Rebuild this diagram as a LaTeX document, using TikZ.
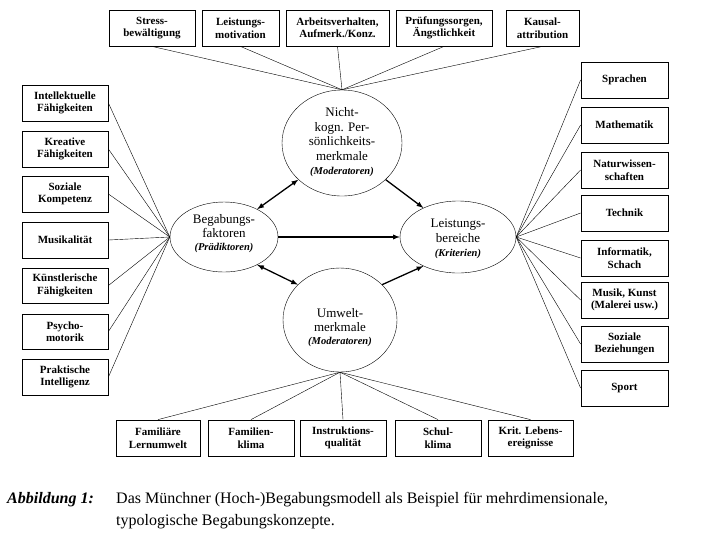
\documentclass[tikz,border=0pt]{standalone}
\usepackage{fontspec}
\setmainfont{Liberation Serif}
\usetikzlibrary{shapes.geometric}
\begin{document}
\begin{tikzpicture}[x=1pt,y=-1pt,
 bx/.style={draw,thick,align=center,inner sep=0pt,font=\fontsize{11}{12.5}\selectfont\bfseries},
 el/.style={draw,ellipse,inner sep=0pt},
 et/.style={align=center,font=\fontsize{13}{14.5}\selectfont},
 ei/.style={font=\fontsize{10.5}{12}\selectfont\bfseries\itshape},
 ar/.style={line width=1.3pt,-latex},
 dar/.style={line width=1.3pt,latex-latex},
 ln/.style={thin}]
\useasboundingbox (0,0) rectangle (708,558);
\def\B#1#2#3#4#5#6{\node[bx,minimum width=#4-#2,minimum height=#5-#3] (#1) at ({(#2+#4)/2},{(#3+#5)/2}) {#6};}
% ellipses
\node[el,minimum width=120,minimum height=106] (top) at (342,143) {};
\node[et] (topt) at (342,134) {Nicht-\\kogn. Per-\\sönlichkeits-\\merkmale};
\node[ei] (topi) at (342,172) {(Moderatoren)};
\node[el,minimum width=108,minimum height=70] (lef) at (224,237) {};
\node[et] (left) at (224,226) {Begabungs-\\faktoren};
\node[ei] (lefi) at (224,248) {(Prädiktoren)};
\node[el,minimum width=116,minimum height=72] (rig) at (458,237) {};
\node[et] (rigt) at (458,231) {Leistungs-\\bereiche};
\node[ei] (rigi) at (458,254) {(Kriterien)};
\node[el,minimum width=114,minimum height=104] (bot) at (340,320) {};
\node[et] (bott) at (340,320) {Umwelt-\\merkmale};
\node[ei] (boti) at (340,342) {(Moderatoren)};
% top boxes
\B{t1}{109}{10}{195}{46}{Stress-\\bewältigung}
\B{t2}{202}{10}{279}{46}{Leistungs-\\motivation}
\B{t3}{286}{10}{389}{46}{Arbeitsverhalten,\\Aufmerk./Konz.}
\B{t4}{396}{10}{492}{46}{Prüfungssorgen,\\Ängstlichkeit}
\B{t5}{506}{10}{579}{46}{Kausal-\\attribution}
\foreach \n in {t1,t2,t3,t4,t5} \draw[ln] (\n.south) -- (top.north);
% left boxes
\B{l1}{22}{85}{108}{121}{Intellektuelle\\Fähigkeiten}
\B{l2}{22}{131}{108}{167}{Kreative\\Fähigkeiten}
\B{l3}{22}{176}{108}{212}{Soziale\\Kompetenz}
\B{l4}{22}{222}{108}{258}{Musikalität}
\B{l5}{22}{268}{108}{303}{Künstlerische\\Fähigkeiten}
\B{l6}{22}{314}{108}{349}{Psycho-\\motorik}
\B{l7}{22}{359}{108}{395}{Praktische\\Intelligenz}
\foreach \n in {l1,l2,l3,l4,l5,l6,l7} \draw[ln] (\n.east) -- (lef.west);
% right boxes
\B{r1}{581}{62}{668}{98}{Sprachen}
\B{r2}{581}{107}{668}{143}{Mathematik}
\B{r3}{581}{152}{668}{188}{Naturwissen-\\schaften}
\B{r4}{581}{195}{668}{231}{Technik}
\B{r5}{581}{240}{668}{276}{Informatik,\\Schach}
\B{r6}{581}{282}{668}{318}{Musik, Kunst\\(Malerei usw.)}
\B{r7}{581}{326}{668}{362}{Soziale\\Beziehungen}
\B{r8}{581}{370}{668}{406}{Sport}
\foreach \n in {r1,r2,r3,r4,r5,r6,r7,r8} \draw[ln] (\n.west) -- (rig.east);
% bottom boxes
\B{b1}{116}{420}{200}{456}{Familiäre\\Lernumwelt}
\B{b2}{208}{420}{294}{456}{Familien-\\klima}
\B{b3}{300}{420}{386}{456}{Instruktions-\\qualität}
\B{b4}{395}{420}{481}{456}{Schul-\\klima}
\B{b5}{488}{420}{573}{456}{Krit. Lebens-\\ereignisse}
\foreach \n in {b1,b2,b3,b4,b5} \draw[ln] (\n.north) -- (bot.south);
% arrows
\draw[dar] (top.220) -- (lef.40);
\draw[ar] (top.-40) -- (rig.140);
\draw[ar] (lef.east) -- (rig.west);
\draw[dar] (bot.140) -- (lef.-40);
\draw[ar] (bot.40) -- (rig.-140);
% caption
\node[anchor=base west,inner sep=0pt,font=\fontsize{16}{18}\selectfont\bfseries\itshape] (cap) at (7,503) {Abbildung 1:};
\node[anchor=base west,inner sep=0pt,font=\fontsize{16}{18}\selectfont] (capa) at (116,503) {Das Münchner (Hoch-)Begabungsmodell als Beispiel für mehrdimensionale,};
\node[anchor=base west,inner sep=0pt,font=\fontsize{16}{18}\selectfont] (capb) at (116,525) {typologische Begabungskonzepte.};
\end{tikzpicture}
\end{document}
